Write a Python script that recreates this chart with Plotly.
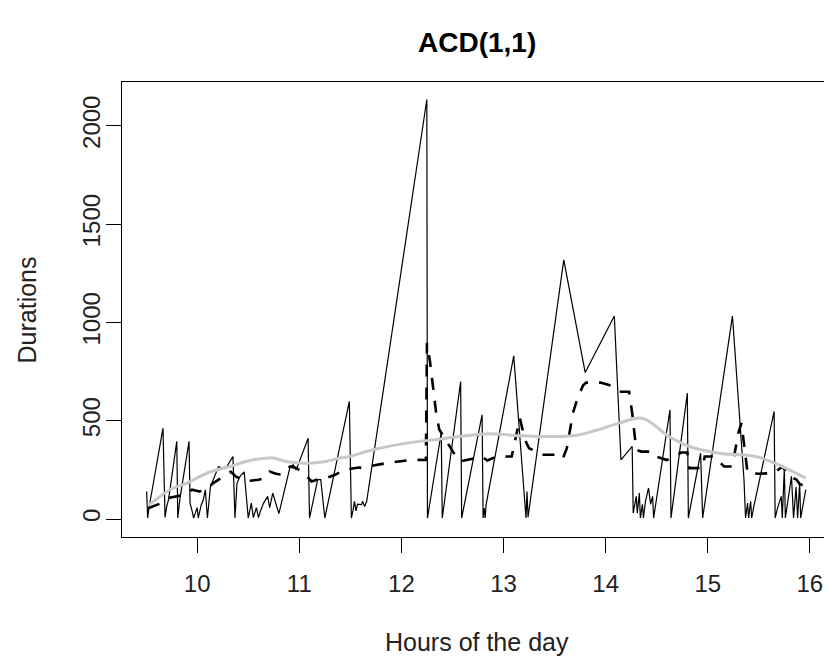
import plotly.graph_objects as go

# ---- data ----
solid_hours = [9.505, 9.515, 9.525, 9.665, 9.685, 9.70, 9.72, 9.80, 9.81, 9.83, 9.92, 9.93, 9.95, 9.965,
               10.00, 10.01, 10.04, 10.06, 10.08, 10.10, 10.13, 10.21, 10.24, 10.29, 10.35, 10.37, 10.39,
               10.42, 10.46, 10.50, 10.53, 10.55, 10.58, 10.60, 10.62, 10.65, 10.69, 10.71, 10.74, 10.77,
               10.80, 10.91, 10.94, 10.97, 11.086, 11.10, 11.18, 11.21, 11.25, 11.49, 11.51, 11.525, 11.54,
               11.555, 11.57, 11.61, 11.62, 11.64, 11.65, 11.66, 12.249, 12.255, 12.39, 12.40, 12.58, 12.59,
               12.79, 12.80, 12.81, 12.82, 12.83, 13.10, 13.22, 13.23, 13.24, 13.59, 13.80, 14.085, 14.15,
               14.26, 14.27, 14.30, 14.31, 14.33, 14.34, 14.36, 14.37, 14.39, 14.42, 14.44, 14.46, 14.47,
               14.63, 14.64, 14.80, 14.81, 14.93, 14.95, 15.242, 15.355, 15.37, 15.39, 15.40, 15.42, 15.43,
               15.45, 15.65, 15.66, 15.685, 15.72, 15.73, 15.75, 15.76, 15.82, 15.84, 15.865, 15.88, 15.90,
               15.91, 15.94, 15.96]
solid_vals = [140, 5, 47, 462, 8, 60, 100, 395, 5, 100, 395, 81, 41, 5,
              58, 5, 73, 98, 149, 5, 166, 267, 259, 267, 318, 5, 183,
              217, 240, 5, 81, 7, 58, 7, 41, 81, 115, 58, 132, 81,
              27, 267, 276, 250, 411, 5, 200, 200, 5, 598, 5, 41, 90,
              41, 75, 73, 90, 64, 80, 90, 2134, 5, 440, 5, 699, 5,
              530, 5, 56, 5, 75, 830, 5, 140, 10, 1318, 745, 1033, 301,
              369, 30, 115, 30, 132, 5, 75, 5, 90, 158, 75, 115, 5,
              555, 5, 640, 5, 335, 5, 1033, 200, 5, 81, 5, 90, 5,
              60, 547, 5, 58, 115, 5, 259, 5, 217, 5, 163, 5, 183,
              5, 81, 149]

fitted_hours = [9.52, 9.56, 9.65, 9.72, 9.81, 9.88, 9.95, 10.02, 10.09, 10.15, 10.21, 10.27, 10.33, 10.38,
                10.45, 10.52, 10.60, 10.66, 10.71, 10.77, 10.83, 10.91, 10.97, 11.05, 11.12, 11.18, 11.22,
                11.30, 11.35, 11.44, 11.52, 11.58, 11.62, 11.70, 11.85, 12.00, 12.10, 12.24, 12.25, 12.28,
                12.31, 12.34, 12.37, 12.42, 12.47, 12.52, 12.58, 12.65, 12.73, 12.79, 12.84, 12.94, 13.08,
                13.16, 13.21, 13.25, 13.38, 13.51, 13.58, 13.62, 13.68, 13.73, 13.78, 13.81, 13.95, 14.08,
                14.15, 14.23, 14.26, 14.30, 14.35, 14.46, 14.49, 14.60, 14.74, 14.80, 14.82, 14.95, 14.97,
                15.06, 15.16, 15.24, 15.27, 15.30, 15.33, 15.39, 15.50, 15.60, 15.65, 15.73, 15.80, 15.87,
                15.90, 15.96]
fitted_vals = [55, 64, 81, 107, 115, 125, 149, 140, 149, 180, 200, 225, 240, 215,
               200, 195, 200, 208, 242, 230, 225, 267, 260, 230, 191, 200, 208,
               215, 225, 250, 259, 262, 259, 270, 284, 292, 301, 300, 896, 800,
               667, 540, 456, 414, 370, 330, 293, 300, 311, 318, 298, 318, 318,
               513, 403, 360, 327, 327, 306, 360, 540, 623, 680, 694, 694, 674,
               648, 647, 539, 352, 343, 343, 318, 300, 338, 338, 259, 259, 318,
               318, 267, 267, 352, 438, 488, 234, 230, 234, 234, 267, 217, 200,
               178, 165]

diurnal_hours = [9.52, 9.60, 9.73, 9.90, 10.10, 10.32, 10.55, 10.74, 10.87, 11.07, 11.26, 11.40, 11.49,
                 11.72, 12.05, 12.37, 12.83, 13.19, 13.68, 13.90, 14.13, 14.36, 14.62, 14.82, 15.11,
                 15.47, 15.73, 15.96]
diurnal_vals = [70, 100, 149, 183, 234, 267, 301, 310, 293, 284, 293, 310, 318,
                352, 386, 406, 433, 423, 423, 450, 488, 513, 420, 369, 335,
                318, 267, 208]

x_ticks = [10, 11, 12, 13, 14, 15, 16]
y_ticks = [0, 500, 1000, 1500, 2000]

FONT = "Liberation Sans, Arial, sans-serif"

fig = go.Figure()
fig.add_trace(go.Scatter(x=solid_hours, y=solid_vals, mode="lines",
                         line=dict(color="black", width=1.2), showlegend=False))
fig.add_trace(go.Scatter(x=fitted_hours, y=fitted_vals, mode="lines",
                         line=dict(color="black", width=2.6, dash="12px,11px"), showlegend=False))
fig.add_trace(go.Scatter(x=diurnal_hours, y=diurnal_vals, mode="lines", line_shape="spline",
                         line=dict(color="#C8C8C8", width=3), showlegend=False))

axis_common = dict(showline=True, mirror=True, linecolor="black", linewidth=1.2,
                   showgrid=False, zeroline=False, ticks="outside", ticklen=15,
                   tickcolor="black", tickwidth=1.2, automargin=False,
                   tickfont=dict(family=FONT, size=24, color="#222222"))

# the page body adds an 8px offset, so the figure is 8px smaller and margins are shifted
fig.update_layout(
    width=824, height=652,
    margin=dict(l=114, r=1, t=74, b=123),
    paper_bgcolor="white", plot_bgcolor="white",
    xaxis=dict(range=[9.2636, 16.207], tickvals=x_ticks, ticklabelstandoff=10, **axis_common),
    yaxis=dict(range=[-91.5, 2223], tickvals=y_ticks, tickangle=-90, ticklabelstandoff=-4, **axis_common),
    annotations=[
        dict(text="<b>ACD(1,1)</b>", x=0.5, y=1.086, xref="paper", yref="paper",
             xanchor="center", yanchor="middle", showarrow=False,
             font=dict(family=FONT, size=28, color="black")),
        dict(text="Hours of the day", x=0.5, y=-0.2308, xref="paper", yref="paper",
             xanchor="center", yanchor="middle", showarrow=False,
             font=dict(family=FONT, size=25, color="#222222")),
        dict(text="Durations", x=-0.134, y=0.5, xref="paper", yref="paper", textangle=-90,
             xanchor="center", yanchor="middle", showarrow=False,
             font=dict(family=FONT, size=25, color="#222222")),
    ],
)

fig.write_html("out.html")
